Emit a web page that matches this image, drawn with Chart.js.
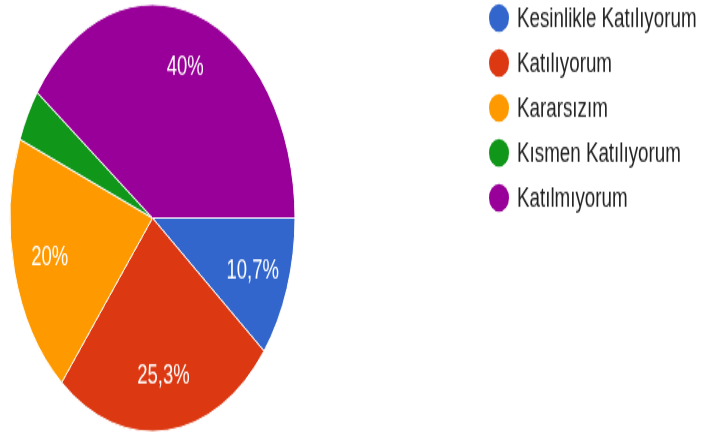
<!DOCTYPE html>
<html>
<head>
<meta charset="utf-8">
<script src="https://cdn.jsdelivr.net/npm/chart.js@4"></script>
<style>
  html, body { margin: 0; padding: 0; background: #ffffff; }
  canvas { display: block; }
</style>
</head>
<body>
<canvas id="c" width="703" height="291" style="width:703px;height:436px;"></canvas>
<script>
const categories = ['Kesinlikle Katılıyorum', 'Katılıyorum', 'Kararsızım', 'Kısmen Katılıyorum', 'Katılmıyorum'];
const percentages = [10.7, 25.3, 20, 4, 40];
const sliceColors = ['#3366cc', '#dc3912', '#ff9900', '#109618', '#990099'];

function fmt(v) { return String(v).replace('.', ',') + '%'; }

const sliceLabels = {
  id: 'sliceLabels',
  afterDatasetsDraw(chart) {
    const ctx = chart.ctx;
    const meta = chart.getDatasetMeta(0);
    ctx.save();
    ctx.fillStyle = '#ffffff';
    ctx.font = '18.5px "Liberation Sans", Arial, sans-serif';
    ctx.textAlign = 'center';
    ctx.textBaseline = 'middle';
    meta.data.forEach((arc, i) => {
      const v = percentages[i];
      if (v < 5) return;
      const p = arc.getProps(['x', 'y', 'startAngle', 'endAngle', 'outerRadius'], true);
      const mid = (p.startAngle + p.endAngle) / 2;
      const r = p.outerRadius * 0.745;
      ctx.fillText(fmt(v), p.x + Math.cos(mid) * r, p.y + Math.sin(mid) * r);
    });
    ctx.restore();
  }
};

const sideLegend = {
  id: 'sideLegend',
  afterDraw(chart) {
    const ctx = chart.ctx;
    ctx.save();
    ctx.font = '18.8px "Liberation Sans", Arial, sans-serif';
    ctx.textAlign = 'left';
    ctx.textBaseline = 'alphabetic';
    categories.forEach((name, i) => {
      const cy = 12 + i * 30;
      ctx.fillStyle = sliceColors[i];
      ctx.beginPath();
      ctx.ellipse(499, cy, 10, 9.3, 0, 0, Math.PI * 2);
      ctx.fill();
      ctx.fillStyle = '#222222';
      ctx.fillText(name, 517, cy + 6.2);
    });
    ctx.restore();
  }
};

new Chart(document.getElementById('c'), {
  type: 'pie',
  data: {
    labels: categories,
    datasets: [{
      data: percentages,
      backgroundColor: sliceColors,
      borderColor: '#ffffff',
      borderWidth: 1
    }]
  },
  options: {
    responsive: false,
    animation: false,
    devicePixelRatio: 1,
    rotation: 90,
    layout: { padding: { left: 9.5, right: 407.5, top: 2.5, bottom: 2.5 } },
    plugins: {
      legend: { display: false },
      tooltip: { enabled: false }
    }
  },
  plugins: [sliceLabels, sideLegend]
});
</script>
</body>
</html>
